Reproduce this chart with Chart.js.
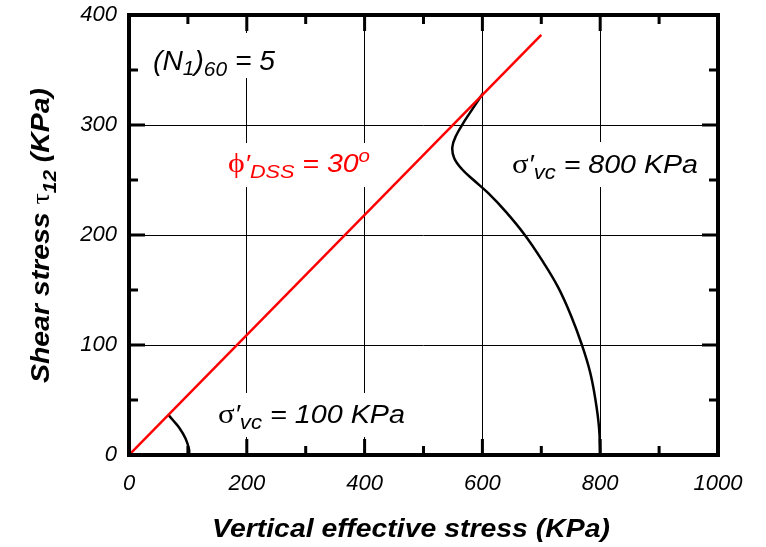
<!DOCTYPE html>
<html>
<head>
<meta charset="utf-8">
<script src="https://cdn.jsdelivr.net/npm/chart.js@4.4.1/dist/chart.umd.min.js"></script>
<style>
    html, body { margin: 0; padding: 0; background: #fff; }
    canvas { display: block; }
</style>
</head>
<body>
<canvas id="chart" width="766" height="547"></canvas>
<script>

// friction line and the two stress paths (sigma'vc, tau)
const frictionLine = [[0, 0], [700, 382]]
const path800 = [
    [800, 0], [798, 25], [792, 50], [783, 75], [769, 100], [751, 126],
    [728, 153], [700, 178], [672, 200], [640, 221], [610, 238], [585, 250],
    [565, 260], [552, 270], [549, 280], [555, 290], [569, 303], [585, 316], [601, 329]
]
const path100 = [[102, 0], [102, 5], [96, 15], [85, 25], [74, 32], [67, 36.5]]

// axis ticks
const xMajor = [200, 400, 600, 800]
const xMinor = [100, 300, 500, 700, 900]
const yMajor = [100, 200, 300]
const yMinor = [50, 150, 250, 350]

const SANS = '"Liberation Sans", Arial, sans-serif'
const SERIF = '"Liberation Serif", "Times New Roman", serif'

const toXY = arr => arr.map(p => ({ x: p[0], y: p[1] }))

// draws a run of text pieces with different fonts / offsets,
// squeezed or stretched sideways to a given width
function richText(ctx, x, y, parts, color, width, box){

    let widths = parts.map(p => { ctx.font = p.f; return ctx.measureText(p.t).width })
    let total = widths.reduce((a, b) => a + b, 0)
    let sx = width ? width / total : 1

    if(box){
        ctx.fillStyle = '#fff'
        ctx.fillRect(x - box[0], y - box[1], total * sx + box[0] * 2, box[1] + box[2])
    }

    ctx.save()
    ctx.translate(x, y)
    ctx.scale(sx, 1)
    ctx.fillStyle = color
    ctx.textBaseline = 'alphabetic'
    ctx.textAlign = 'left'
    let cx = 0
    parts.forEach((p, i) => {
        ctx.font = p.f
        ctx.fillText(p.t, cx, p.dy || 0)
        cx += widths[i]
    })
    ctx.restore()
}

const it = s => 'italic ' + s + 'px ' + SANS
const sy = s => s + 'px ' + SERIF

const annotations = {
    id: 'annotations',
    afterDatasetsDraw(chart){
        const ctx = chart.ctx

        richText(ctx, 153, 70, [
            { t: '(N', f: it(27) },
            { t: '1', f: it(20), dy: 5 },
            { t: ')', f: it(27) },
            { t: '60', f: it(20), dy: 6 },
            { t: ' = 5', f: it(27) }
        ], '#000', 122, [4, 37, 8])

        richText(ctx, 228, 172, [
            { t: '\u03d5', f: sy(28) },
            { t: '\u2032', f: it(24) },
            { t: 'DSS', f: it(19), dy: 6 },
            { t: ' = 30', f: it(25) },
            { t: 'o', f: it(18), dy: -10 }
        ], '#ff0000', 142, [4, 29, 15])

        richText(ctx, 512, 173, [
            { t: '\u03c3', f: sy(28) },
            { t: '\u2032', f: it(25) },
            { t: 'vc', f: it(20), dy: 6 },
            { t: ' = 800 KPa', f: it(26) }
        ], '#000', 186, [4, 31, 14])

        richText(ctx, 218, 423, [
            { t: '\u03c3', f: sy(28) },
            { t: '\u2032', f: it(25) },
            { t: 'vc', f: it(20), dy: 6 },
            { t: ' = 100 KPa', f: it(26) }
        ], '#000', 187, [4, 30, 14])
    }
}

const frame = {
    id: 'frame',
    afterDraw(chart){
        const ctx = chart.ctx
        const { left, right, top, bottom } = chart.chartArea
        const xs = chart.scales.x
        const ys = chart.scales.y

        ctx.save()
        ctx.strokeStyle = '#000'
        ctx.lineWidth = 3
        ctx.lineCap = 'butt'

        const tickX = (vals, len) => {
            vals.forEach(v => {
                let px = xs.getPixelForValue(v)
                ctx.beginPath()
                ctx.moveTo(px, bottom); ctx.lineTo(px, bottom - len)
                ctx.moveTo(px, top); ctx.lineTo(px, top + len)
                ctx.stroke()
            })
        }
        const tickY = (vals, len) => {
            vals.forEach(v => {
                let py = ys.getPixelForValue(v)
                ctx.beginPath()
                ctx.moveTo(left, py); ctx.lineTo(left + len, py)
                ctx.moveTo(right, py); ctx.lineTo(right - len, py)
                ctx.stroke()
            })
        }
        tickX(xMajor, 16); tickX(xMinor, 9)
        tickY(yMajor, 16); tickY(yMinor, 9)

        ctx.lineWidth = 4
        ctx.strokeRect(left, top, right - left, bottom - top)

        // axis titles
        const bold = s => 'italic bold ' + s + 'px ' + SANS
        richText(ctx, 212, 537, [{ t: 'Vertical effective stress (KPa)', f: bold(26) }], '#000', 398)

        ctx.translate(49, 383)
        ctx.rotate(-Math.PI / 2)
        richText(ctx, 0, 0, [
            { t: 'Shear stress ', f: bold(26) },
            { t: '\u03c4', f: sy(26) },
            { t: '12', f: bold(19), dy: 7 },
            { t: ' (KPa)', f: bold(26) }
        ], '#000', 295)

        ctx.restore()
    }
}

const tickFont = { family: SANS, size: 22, style: 'italic' }

// keep the plot box fixed: no extra room for half tick labels
function fixBox(scale, w, h){
    if(w) scale.width = w
    if(h) scale.height = h
    scale.paddingTop = 0
    scale.paddingBottom = 0
    scale.paddingLeft = 0
    scale.paddingRight = 0
}

new Chart(document.getElementById('chart'), {
    type: 'scatter',
    data: {
        datasets: [
            {
                data: toXY(frictionLine),
                showLine: true,
                borderColor: '#ff0000',
                borderWidth: 2.5,
                pointRadius: 0
            },
            {
                data: toXY(path800),
                showLine: true,
                borderColor: '#000',
                borderWidth: 2.5,
                tension: 0.4,
                pointRadius: 0
            },
            {
                data: toXY(path100),
                showLine: true,
                borderColor: '#000',
                borderWidth: 2.5,
                tension: 0.4,
                pointRadius: 0
            }
        ]
    },
    options: {
        responsive: false,
        animation: false,
        devicePixelRatio: 1,
        layout: { padding: { top: 15, right: 48, left: 0, bottom: 0 } },
        plugins: {
            legend: { display: false },
            tooltip: { enabled: false }
        },
        scales: {
            x: {
                type: 'linear',
                min: 0,
                max: 1000,
                ticks: {
                    stepSize: 200, color: '#000', font: tickFont, padding: 16, maxRotation: 0,
                    callback: v => String(v)
                },
                grid: { color: '#000', lineWidth: 1, drawTicks: false },
                border: { display: false },
                afterFit(scale){ fixBox(scale, 0, 92) }
            },
            y: {
                type: 'linear',
                min: 0,
                max: 400,
                ticks: { stepSize: 100, color: '#000', font: tickFont, padding: 12, callback: v => String(v) },
                grid: { color: '#000', lineWidth: 1, drawTicks: false },
                border: { display: false },
                afterFit(scale){ fixBox(scale, 129, 0) }
            }
        }
    },
    plugins: [annotations, frame]
})
</script>
</body>
</html>
